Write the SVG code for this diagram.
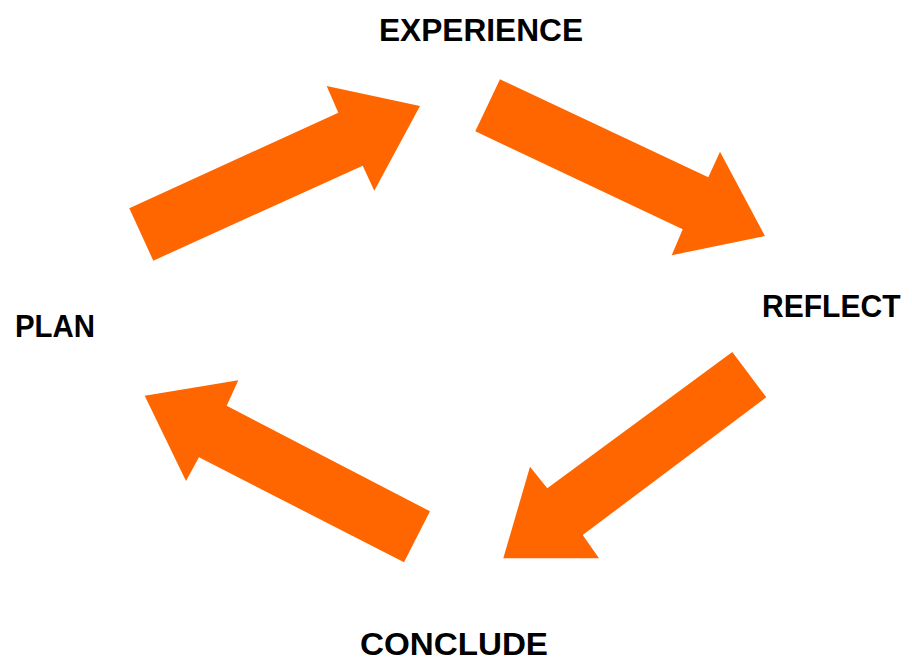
<svg xmlns="http://www.w3.org/2000/svg" width="912" height="662" viewBox="0 0 912 662">
<style>
.arr{fill:#FF6600;stroke:none}
.lbl{font-family:"Liberation Sans",Arial,Helvetica,sans-serif;font-weight:bold;font-size:31px;fill:#000}
</style>
<rect width="912" height="662" fill="#fff"/>
<g id="node-experience"><text class="lbl" x="379" y="41" textLength="204" lengthAdjust="spacingAndGlyphs">EXPERIENCE</text></g>
<g id="node-reflect"><text class="lbl" x="762" y="317" textLength="138.5" lengthAdjust="spacingAndGlyphs">REFLECT</text></g>
<g id="node-conclude"><text class="lbl" x="360" y="655" textLength="188" lengthAdjust="spacingAndGlyphs">CONCLUDE</text></g>
<g id="node-plan"><text class="lbl" x="15" y="336.5" textLength="80" lengthAdjust="spacingAndGlyphs">PLAN</text></g>
<g id="connectors">
<polygon class="arr" points="129.3,208.3 338.3,112.7 326.7,86 420,106 374.3,190.7 362.7,165.7 153.3,260.7"/>
<polygon class="arr" points="500,79.3 708.3,177.3 720,151.7 765,236 671.7,255.3 682.7,229.3 475.3,131.3"/>
<polygon class="arr" points="732.3,352 766.3,397.3 582.7,535 599,558.3 503.3,558.3 530,466.7 547.3,488.3"/>
<polygon class="arr" points="430,511.3 404,562.3 199,457.3 186,481 144.7,395.7 238.3,380.3 226.7,405.7"/>
</g>
</svg>
